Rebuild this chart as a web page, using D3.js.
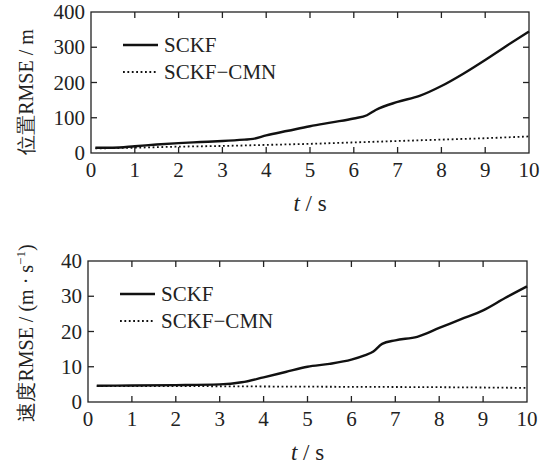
<!DOCTYPE html>
<html>
<head>
<meta charset="utf-8">
<script src="https://cdn.jsdelivr.net/npm/d3@7"></script>
</head>
<body style="margin:0;background:#fff">
<div id="chart"></div>
<script>
// time axis
const xTicks = [0, 1, 2, 3, 4, 5, 6, 7, 8, 9, 10];

// position RMSE (m)
const posTime = [0.1, 0.5, 1, 1.5, 2, 2.5, 3, 3.5, 3.7, 4, 4.5, 5, 5.5, 6, 6.3, 6.5, 7, 7.5, 8, 8.5, 9, 9.5, 10];
const posSCKF = [15, 15, 19, 24, 28, 31, 34, 38, 40, 50, 63, 76, 87, 98, 107, 122, 145, 162, 190, 225, 264, 305, 345];
const posCMNTime = [0.1, 1, 2, 3, 4, 5, 6, 7, 8, 9, 10];
const posCMN = [13, 15, 18, 20, 23, 26, 30, 34, 38, 42, 47];
const posTicks = [0, 100, 200, 300, 400];

// velocity RMSE (m/s)
const velTime = [0.2, 1, 2, 3, 3.5, 4, 4.5, 5, 5.5, 6, 6.3, 6.5, 6.7, 7, 7.5, 8, 8.5, 9, 9.5, 10];
const velSCKF = [4.6, 4.7, 4.8, 5.0, 5.6, 7.0, 8.5, 10.0, 10.8, 12.0, 13.2, 14.3, 16.5, 17.5, 18.5, 21.0, 23.5, 26.0, 29.5, 32.8];
const velCMNTime = [0.2, 2, 4, 6, 8, 10];
const velCMN = [4.5, 4.5, 4.4, 4.3, 4.2, 4.0];
const velTicks = [0, 10, 20, 30, 40];

const seriesNames = ['SCKF', 'SCKF\u2212CMN'];

const INK = '#222';

const svg = d3.select('#chart').append('svg')
    .attr('width', 547)
    .attr('height', 466);

// texts sit straight in the svg, serif face forced on each one
function addText(size) {
    const t = svg.append('text')
        .attr('font-family', 'Liberation Serif')
        .attr('font-size', size)
        .attr('fill', INK);
    t.node().style.setProperty('font-family', '"Liberation Serif", "Times New Roman", serif', 'important');
    t.node().style.setProperty('font-size', size + 'px', 'important');
    return t;
}

/**
 * draws one panel with frame, inward ticks on all sides, two lines and legend
 */
function drawPanel(opt) {
    const x = d3.scaleLinear().domain([0, 10]).range([opt.left, opt.right]);
    const y = d3.scaleLinear().domain([0, opt.yMax]).range([opt.bottom, opt.top]);
    const g = svg.append('g');
    const tickLen = 6;

    // frame
    g.append('rect')
        .attr('x', opt.left).attr('y', opt.top)
        .attr('width', opt.right - opt.left).attr('height', opt.bottom - opt.top)
        .attr('fill', 'none').attr('stroke', INK).attr('stroke-width', 1.3);

    // x ticks, bottom + top, pointing inward
    const inner = xTicks.slice(1, -1);
    g.selectAll('.xtb').data(inner).enter().append('line')
        .attr('x1', d => x(d)).attr('x2', d => x(d))
        .attr('y1', opt.bottom).attr('y2', opt.bottom - tickLen)
        .attr('stroke', INK).attr('stroke-width', 1.3);
    g.selectAll('.xtt').data(inner).enter().append('line')
        .attr('x1', d => x(d)).attr('x2', d => x(d))
        .attr('y1', opt.top).attr('y2', opt.top + tickLen)
        .attr('stroke', INK).attr('stroke-width', 1.3);
    xTicks.forEach(d => {
        addText(21)
            .attr('x', x(d)).attr('y', opt.bottom + 24)
            .attr('text-anchor', 'middle')
            .text(d);
    });

    // y ticks, left + right
    const yInner = opt.yTicks.slice(1, -1);
    g.selectAll('.ytl').data(yInner).enter().append('line')
        .attr('x1', opt.left).attr('x2', opt.left + tickLen)
        .attr('y1', d => y(d)).attr('y2', d => y(d))
        .attr('stroke', INK).attr('stroke-width', 1.3);
    g.selectAll('.ytr').data(yInner).enter().append('line')
        .attr('x1', opt.right).attr('x2', opt.right - tickLen)
        .attr('y1', d => y(d)).attr('y2', d => y(d))
        .attr('stroke', INK).attr('stroke-width', 1.3);
    opt.yTicks.forEach(d => {
        addText(21)
            .attr('x', opt.left - 6).attr('y', y(d) + 7)
            .attr('text-anchor', 'end')
            .text(d);
    });

    const line = d3.line()
        .x(d => x(d[0]))
        .y(d => y(d[1]))
        .curve(d3.curveMonotoneX);

    g.append('path')
        .attr('d', line(d3.zip(opt.t1, opt.v1)))
        .attr('fill', 'none').attr('stroke', '#111').attr('stroke-width', 2.4);
    g.append('path')
        .attr('d', line(d3.zip(opt.t2, opt.v2)))
        .attr('fill', 'none').attr('stroke', '#111').attr('stroke-width', 1.8)
        .attr('stroke-dasharray', '1.8,2.6');

    // legend
    const lx = opt.left + 32, ly = opt.top + 33;
    seriesNames.forEach((name, i) => {
        const yy = ly + i * 27;
        g.append('line')
            .attr('x1', lx).attr('x2', lx + 35)
            .attr('y1', yy).attr('y2', yy)
            .attr('stroke', '#111')
            .attr('stroke-width', i === 0 ? 2.4 : 1.8)
            .attr('stroke-dasharray', i === 0 ? null : '1.8,2.6');
        addText(21)
            .attr('x', lx + 41).attr('y', yy + 7)
            .text(name);
    });

    // x title
    const xt = addText(23)
        .attr('x', (opt.left + opt.right) / 2).attr('y', opt.bottom + 58)
        .attr('text-anchor', 'middle');
    xt.append('tspan').attr('font-style', 'italic').text('t');
    xt.append('tspan').text(' / s');

    // y title
    const yt = addText(20)
        .attr('transform', 'translate(' + 33 + ',' + opt.yTitleY + ') rotate(-90)')
        .attr('text-anchor', 'middle');
    yt.append('tspan').text(opt.yTitle);
    if (opt.sup) {
        yt.append('tspan').attr('dy', -8).style('font-size', '13px').text(opt.sup);
        yt.append('tspan').attr('dy', 8).text(')');
    }
}

drawPanel({
    left: 91, right: 529, top: 12, bottom: 153,
    yMax: 400, yTicks: posTicks,
    t1: posTime, v1: posSCKF, t2: posCMNTime, v2: posCMN,
    yTitle: '位置RMSE / m', yTitleY: 92
});

drawPanel({
    left: 88, right: 527, top: 261, bottom: 402,
    yMax: 40, yTicks: velTicks,
    t1: velTime, v1: velSCKF, t2: velCMNTime, v2: velCMN,
    yTitle: '速度RMSE / (m · s', sup: '\u22121', yTitleY: 333
});
</script>
</body>
</html>
